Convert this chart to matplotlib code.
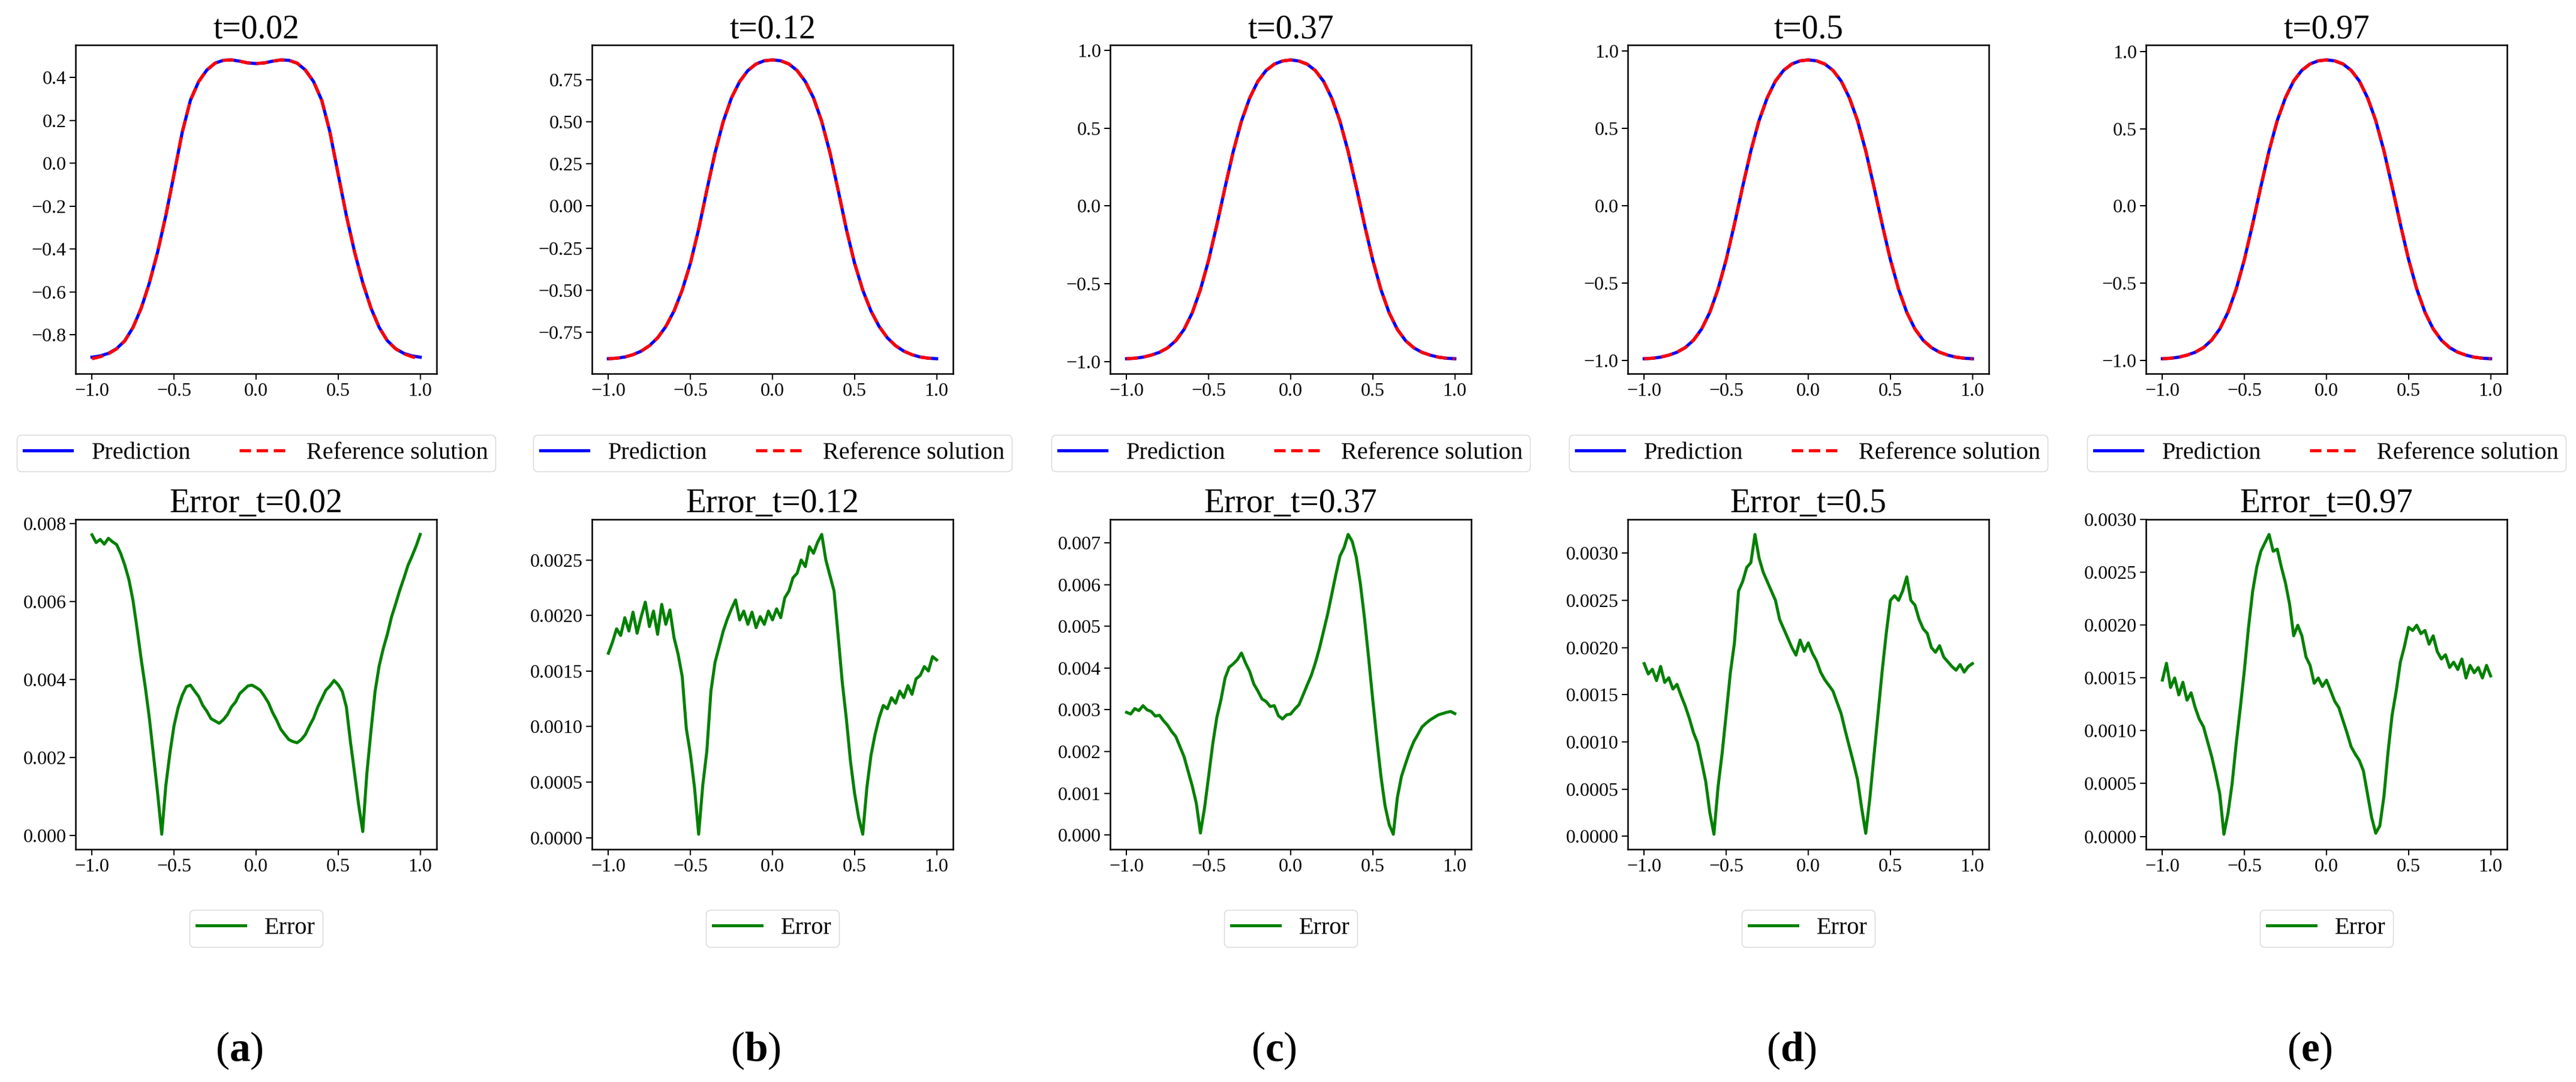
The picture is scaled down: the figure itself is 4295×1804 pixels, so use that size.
import numpy as np
import matplotlib
matplotlib.use("Agg")
import matplotlib.pyplot as plt
from matplotlib.ticker import MultipleLocator

# time instants and panel letters
times = ["0.02", "0.12", "0.37", "0.5", "0.97"]
letters = ["a", "b", "c", "d", "e"]

# solution curves, read at x = -1.0 ... 1.0 step 0.05
x_sol = np.linspace(-1.0, 1.0, 41)

pred_a = [-0.905, -0.899, -0.887, -0.865, -0.828, -0.766, -0.676, -0.558, -0.414, -0.244,
          -0.051, 0.145, 0.294, 0.381, 0.435, 0.467, 0.480, 0.482, 0.476, 0.468,
          0.465,
          0.468, 0.476, 0.482, 0.480, 0.467, 0.435, 0.381, 0.294, 0.145, -0.051,
          -0.244, -0.414, -0.558, -0.676, -0.766, -0.828, -0.865, -0.887, -0.899, -0.905]
ref_a = [-0.912, -0.903, -0.889, -0.866, -0.829, -0.766, -0.676, -0.558, -0.414, -0.244,
         -0.051, 0.145, 0.294, 0.381, 0.435, 0.467, 0.480, 0.482, 0.476, 0.468,
         0.465,
         0.468, 0.476, 0.482, 0.480, 0.467, 0.435, 0.381, 0.294, 0.145, -0.051,
         -0.244, -0.414, -0.558, -0.676, -0.766, -0.829, -0.866, -0.889, -0.903, -0.912]
pred_b = [-0.906, -0.903, -0.896, -0.882, -0.861, -0.829, -0.782, -0.715, -0.623, -0.499,
          -0.339, -0.138, 0.094, 0.316, 0.501, 0.641, 0.738, 0.803, 0.842, 0.861,
          0.866,
          0.861, 0.842, 0.803, 0.738, 0.641, 0.501, 0.316, 0.094, -0.138, -0.339,
          -0.499, -0.623, -0.715, -0.782, -0.829, -0.861, -0.882, -0.896, -0.903, -0.906]
pred_c = [-0.982, -0.979, -0.972, -0.959, -0.941, -0.912, -0.866, -0.794, -0.687, -0.538,
          -0.348, -0.122, 0.119, 0.350, 0.545, 0.693, 0.801, 0.870, 0.911, 0.931,
          0.938,
          0.931, 0.911, 0.870, 0.801, 0.693, 0.545, 0.350, 0.119, -0.122, -0.348,
          -0.538, -0.687, -0.794, -0.866, -0.912, -0.941, -0.959, -0.972, -0.979, -0.982]
pred_d = [-0.988, -0.985, -0.978, -0.965, -0.946, -0.916, -0.869, -0.796, -0.688, -0.538,
          -0.346, -0.118, 0.124, 0.356, 0.552, 0.700, 0.808, 0.877, 0.918, 0.938,
          0.944,
          0.938, 0.918, 0.877, 0.808, 0.700, 0.552, 0.356, 0.124, -0.118, -0.346,
          -0.538, -0.688, -0.796, -0.869, -0.916, -0.946, -0.965, -0.978, -0.985, -0.988]
pred_e = [-0.988, -0.985, -0.978, -0.965, -0.946, -0.916, -0.868, -0.795, -0.687, -0.537,
          -0.345, -0.117, 0.125, 0.357, 0.553, 0.701, 0.809, 0.878, 0.919, 0.939,
          0.945,
          0.939, 0.919, 0.878, 0.809, 0.701, 0.553, 0.357, 0.125, -0.117, -0.345,
          -0.537, -0.687, -0.795, -0.868, -0.916, -0.946, -0.965, -0.978, -0.985, -0.988]
ref_b, ref_c, ref_d, ref_e = pred_b, pred_c, pred_d, pred_e

# absolute error, read at x = -1.0 ... 1.0 step 0.025
x_err = np.linspace(-1.0, 1.0, 81)

err_a = [0.00772, 0.00752, 0.00760, 0.00748, 0.00763, 0.00754, 0.00747, 0.00724, 0.00694, 0.00657,
         0.00603, 0.00530, 0.00452, 0.00380, 0.00300, 0.00205, 0.00108, 0.00003, 0.00128, 0.00212,
         0.00282, 0.00328, 0.00360, 0.00382, 0.00386, 0.00371, 0.00357, 0.00334, 0.00319, 0.00300,
         0.00294, 0.00288, 0.00297, 0.00310, 0.00330, 0.00343, 0.00364, 0.00374, 0.00384, 0.00386,
         0.00380,
         0.00373, 0.00358, 0.00341, 0.00316, 0.00296, 0.00273, 0.00259, 0.00246, 0.00241, 0.00238,
         0.00246, 0.00259, 0.00281, 0.00301, 0.00329, 0.00351, 0.00373, 0.00384, 0.00398, 0.00387,
         0.00370, 0.00330, 0.00240, 0.00160, 0.00078, 0.00010, 0.00160, 0.00268, 0.00370, 0.00436,
         0.00480, 0.00517, 0.00561, 0.00594, 0.00629, 0.00660, 0.00693, 0.00717, 0.00743, 0.00773]
err_b = [0.00166, 0.00176, 0.00188, 0.00182, 0.00198, 0.00186, 0.00203, 0.00184, 0.00199, 0.00212,
         0.00190, 0.00204, 0.00183, 0.00210, 0.00192, 0.00205, 0.00180, 0.00165, 0.00145, 0.00098,
         0.00075, 0.00045, 0.00003, 0.00047, 0.00078, 0.00132, 0.00158, 0.00172, 0.00186, 0.00197,
         0.00206, 0.00214, 0.00196, 0.00204, 0.00192, 0.00203, 0.00189, 0.00199, 0.00192, 0.00204,
         0.00196,
         0.00206, 0.00198, 0.00216, 0.00222, 0.00234, 0.00238, 0.00250, 0.00244, 0.00262, 0.00256,
         0.00266, 0.00273, 0.00250, 0.00236, 0.00222, 0.00182, 0.00140, 0.00107, 0.00069, 0.00040,
         0.00018, 0.00003, 0.00045, 0.00074, 0.00093, 0.00108, 0.00119, 0.00116, 0.00126, 0.00121,
         0.00132, 0.00126, 0.00137, 0.00129, 0.00143, 0.00146, 0.00154, 0.00150, 0.00163, 0.00160]
err_c = [0.00294, 0.00290, 0.00303, 0.00298, 0.00310, 0.00300, 0.00296, 0.00285, 0.00287, 0.00274,
         0.00263, 0.00248, 0.00236, 0.00212, 0.00188, 0.00153, 0.00118, 0.00076, 0.00005, 0.00065,
         0.00141, 0.00218, 0.00282, 0.00324, 0.00376, 0.00402, 0.00410, 0.00420, 0.00436, 0.00412,
         0.00392, 0.00362, 0.00345, 0.00326, 0.00320, 0.00308, 0.00310, 0.00286, 0.00278, 0.00288,
         0.00290,
         0.00302, 0.00312, 0.00335, 0.00359, 0.00382, 0.00412, 0.00447, 0.00488, 0.00529, 0.00576,
         0.00624, 0.00668, 0.00688, 0.00720, 0.00703, 0.00665, 0.00600, 0.00518, 0.00424, 0.00324,
         0.00229, 0.00141, 0.00070, 0.00025, 0.00002, 0.00090, 0.00141, 0.00171, 0.00200, 0.00224,
         0.00241, 0.00259, 0.00268, 0.00276, 0.00282, 0.00288, 0.00291, 0.00294, 0.00296, 0.00291]
err_d = [0.00183, 0.00172, 0.00177, 0.00165, 0.00180, 0.00163, 0.00168, 0.00156, 0.00161, 0.00149,
         0.00138, 0.00125, 0.00110, 0.00099, 0.00079, 0.00058, 0.00025, 0.00002, 0.00052, 0.00088,
         0.00130, 0.00173, 0.00205, 0.00260, 0.00270, 0.00285, 0.00290, 0.00320, 0.00295, 0.00280,
         0.00270, 0.00260, 0.00250, 0.00230, 0.00220, 0.00210, 0.00200, 0.00192, 0.00208, 0.00196,
         0.00205,
         0.00194, 0.00186, 0.00174, 0.00166, 0.00160, 0.00154, 0.00142, 0.00130, 0.00112, 0.00095,
         0.00078, 0.00060, 0.00030, 0.00003, 0.00040, 0.00085, 0.00130, 0.00175, 0.00215, 0.00250,
         0.00255, 0.00250, 0.00260, 0.00275, 0.00250, 0.00245, 0.00230, 0.00220, 0.00215, 0.00200,
         0.00195, 0.00202, 0.00190, 0.00185, 0.00180, 0.00176, 0.00182, 0.00174, 0.00180, 0.00183]
err_e = [0.00148, 0.00164, 0.00141, 0.00150, 0.00134, 0.00146, 0.00129, 0.00136, 0.00122, 0.00111,
         0.00104, 0.00090, 0.00076, 0.00059, 0.00040, 0.00002, 0.00022, 0.00050, 0.00088, 0.00122,
         0.00158, 0.00198, 0.00232, 0.00255, 0.00270, 0.00278, 0.00286, 0.00270, 0.00272, 0.00255,
         0.00240, 0.00220, 0.00190, 0.00200, 0.00190, 0.00170, 0.00162, 0.00145, 0.00150, 0.00142,
         0.00148,
         0.00138, 0.00128, 0.00122, 0.00110, 0.00098, 0.00085, 0.00078, 0.00072, 0.00062, 0.00040,
         0.00018, 0.00003, 0.00010, 0.00038, 0.00080, 0.00115, 0.00138, 0.00165, 0.00180, 0.00198,
         0.00195, 0.00200, 0.00192, 0.00195, 0.00182, 0.00190, 0.00175, 0.00168, 0.00172, 0.00160,
         0.00165, 0.00158, 0.00168, 0.00150, 0.00162, 0.00155, 0.00160, 0.00150, 0.00162, 0.00152]

pred_list = [pred_a, pred_b, pred_c, pred_d, pred_e]
ref_list = [ref_a, ref_b, ref_c, ref_d, ref_e]
err_list = [err_a, err_b, err_c, err_d, err_e]
top_steps = [0.2, 0.25, 0.5, 0.5, 0.5]
err_steps = [0.002, 0.0005, 0.001, 0.0005, 0.0005]


def main():
    plt.rcParams["font.family"] = ["Liberation Serif", "DejaVu Serif"]
    plt.rcParams["mathtext.fontset"] = "custom"
    plt.rcParams["mathtext.rm"] = "Liberation Serif"
    plt.rcParams["mathtext.bf"] = "Liberation Serif:bold"

    W, H = 4295, 1804
    fig = plt.figure(figsize=(W / 100, H / 100), dpi=100)

    lefts = [126, 987, 1851, 2714, 3578]
    aw = 602

    for i in range(5):
        l = lefts[i]
        # solution panel
        ax = fig.add_axes([l / W, 1 - 623 / H, aw / W, 548 / H])
        ax.plot(x_sol, pred_list[i], color="blue", lw=3.8, label="Prediction")
        ax.plot(x_sol, ref_list[i], color="red", lw=3.8, linestyle=(0, (3.6, 1.8)),
                label="Reference solution")
        ax.set_title("t=" + times[i], fontsize=40)
        ax.xaxis.set_major_locator(MultipleLocator(0.5))
        ax.yaxis.set_major_locator(MultipleLocator(top_steps[i]))
        ax.legend(loc="upper center", bbox_to_anchor=(0.5, -0.186), ncol=2,
                  fontsize=29, borderaxespad=0, borderpad=0.3)

        # error panel
        ax2 = fig.add_axes([l / W, 1 - 1416 / H, aw / W, 550 / H])
        ax2.plot(x_err, err_list[i], color="green", lw=3.6, label="Error")
        ax2.set_title("Error_t=" + times[i], fontsize=40)
        ax2.xaxis.set_major_locator(MultipleLocator(0.5))
        ax2.yaxis.set_major_locator(MultipleLocator(err_steps[i]))
        ax2.legend(loc="upper center", bbox_to_anchor=(0.5, -0.184),
                   fontsize=29, borderaxespad=0, borderpad=0.3)

        for a in (ax, ax2):
            a.tick_params(labelsize=23, length=7, width=1.5, pad=4)
            for s in a.spines.values():
                s.set_linewidth(1.8)

        fig.text((l + 273) / W, 1 - 1752 / H, r"$\mathrm{(}\mathbf{" + letters[i] + r"}\mathrm{)}$",
                 fontsize=50, ha="center", va="center")

    fig.savefig("out.png", dpi=100)


if __name__ == "__main__":
    main()
